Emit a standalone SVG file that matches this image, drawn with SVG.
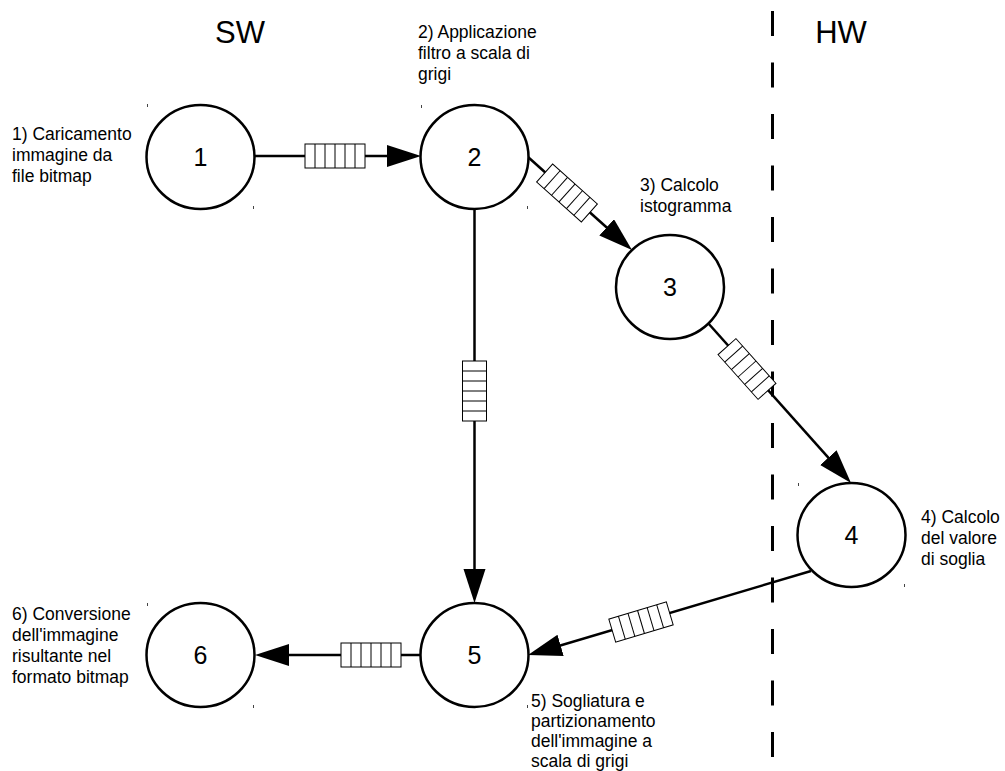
<svg xmlns="http://www.w3.org/2000/svg" xmlns:xlink="http://www.w3.org/1999/xlink" width="1005" height="771" viewBox="0 0 1005 771">
<style>
.node{fill:#fff;stroke:#000;stroke-width:2.5}
.num{font-family:"Liberation Sans",Arial,sans-serif;font-size:25px;text-anchor:middle;fill:#000}
.lbl{font-family:"Liberation Sans",Arial,sans-serif;font-size:17.5px;fill:#000}
.big{font-family:"Liberation Sans",Arial,sans-serif;font-size:31px;text-anchor:middle;fill:#000}
.edge{fill:none;stroke:#000;stroke-width:2.5}
.tick{fill:#444}
.qbox{fill:#fff;stroke:#000;stroke-width:1}
.qline{stroke:#000;stroke-width:1}
</style>
<defs>
<marker id="arr" markerUnits="userSpaceOnUse" markerWidth="36" markerHeight="24" refX="17" refY="11" orient="auto">
<path d="M0,0 L34,11 L0,22 z" fill="#000"/>
</marker>
<g id="q">
<rect class="qbox" x="-30" y="-12" width="60" height="24"/>
<line class="qline" x1="-20" y1="-12" x2="-20" y2="12"/>
<line class="qline" x1="-10" y1="-12" x2="-10" y2="12"/>
<line class="qline" x1="0" y1="-12" x2="0" y2="12"/>
<line class="qline" x1="10" y1="-12" x2="10" y2="12"/>
<line class="qline" x1="20" y1="-12" x2="20" y2="12"/>
</g>
</defs>
<rect width="1005" height="771" fill="#fff"/>

<text class="big" x="240" y="43">SW</text>
<text class="big" x="841" y="43">HW</text>
<line x1="772.5" y1="11" x2="772.5" y2="771" stroke="#000" stroke-width="3" stroke-dasharray="25 26.5"/>

<g id="connectors">
<line class="edge" x1="255" y1="156" x2="404" y2="156" marker-end="url(#arr)"/>
<use xlink:href="#q" transform="translate(335,156)"/>
<line class="edge" x1="474.5" y1="208" x2="474.5" y2="586" marker-end="url(#arr)"/>
<use xlink:href="#q" transform="translate(474.5,391) rotate(90)"/>
<line class="edge" x1="528" y1="157" x2="619.3" y2="238.7" marker-end="url(#arr)"/>
<use xlink:href="#q" transform="translate(567,193) rotate(41.8)"/>
<line class="edge" x1="708" y1="323" x2="839.7" y2="470.3" marker-end="url(#arr)"/>
<use xlink:href="#q" transform="translate(747,369) rotate(48.2)"/>
<line class="edge" x1="811" y1="571" x2="544.3" y2="650.2" marker-end="url(#arr)"/>
<use xlink:href="#q" transform="translate(641,622) rotate(-16.6)"/>
<line class="edge" x1="421" y1="655" x2="272" y2="655" marker-end="url(#arr)"/>
<use xlink:href="#q" transform="translate(371,655)"/>
</g>

<g id="node1">
<rect class="tick" x="147" y="104" width="1" height="3"/>
<rect class="tick" x="253" y="206" width="1" height="3"/>
<ellipse class="node" cx="200.5" cy="157" rx="54" ry="52"/>
<text class="num" x="200.5" y="166">1</text>
<text class="lbl"><tspan x="12" y="140">1) Caricamento</tspan><tspan x="12" y="161">immagine da</tspan><tspan x="12" y="182">file bitmap</tspan></text>
</g>
<g id="node2">
<rect class="tick" x="421" y="105" width="1" height="3"/>
<rect class="tick" x="527" y="206" width="1" height="3"/>
<ellipse class="node" cx="474.5" cy="157" rx="54" ry="52"/>
<text class="num" x="474.5" y="166">2</text>
<text class="lbl"><tspan x="418" y="38">2) Applicazione</tspan><tspan x="418" y="59">filtro a scala di</tspan><tspan x="418" y="80">grigi</tspan></text>
</g>
<g id="node3">
<ellipse class="node" cx="670" cy="287" rx="54" ry="52"/>
<text class="num" x="670" y="296">3</text>
<text class="lbl"><tspan x="640" y="191">3) Calcolo</tspan><tspan x="640" y="212">istogramma</tspan></text>
</g>
<g id="node4">
<rect class="tick" x="798" y="483" width="1" height="3"/>
<rect class="tick" x="904" y="584" width="1" height="3"/>
<ellipse class="node" cx="851.5" cy="535" rx="54" ry="52"/>
<text class="num" x="851.5" y="544">4</text>
<text class="lbl"><tspan x="921" y="523">4) Calcolo</tspan><tspan x="921" y="544">del valore</tspan><tspan x="921" y="565">di soglia</tspan></text>
</g>
<g id="node5">
<rect class="tick" x="527" y="705" width="1" height="3"/>
<ellipse class="node" cx="474.5" cy="655" rx="54" ry="52"/>
<text class="num" x="474.5" y="664">5</text>
<text class="lbl"><tspan x="531" y="707">5) Sogliatura e</tspan><tspan x="531" y="727">partizionamento</tspan><tspan x="531" y="747">dell'immagine a</tspan><tspan x="531" y="767">scala di grigi</tspan></text>
</g>
<g id="node6">
<rect class="tick" x="147" y="603" width="1" height="3"/>
<rect class="tick" x="253" y="705" width="1" height="3"/>
<ellipse class="node" cx="200.5" cy="655" rx="54" ry="52"/>
<text class="num" x="200.5" y="664">6</text>
<text class="lbl"><tspan x="12" y="620">6) Conversione</tspan><tspan x="12" y="641">dell'immagine</tspan><tspan x="12" y="662">risultante nel</tspan><tspan x="12" y="683">formato bitmap</tspan></text>
</g>
</svg>
